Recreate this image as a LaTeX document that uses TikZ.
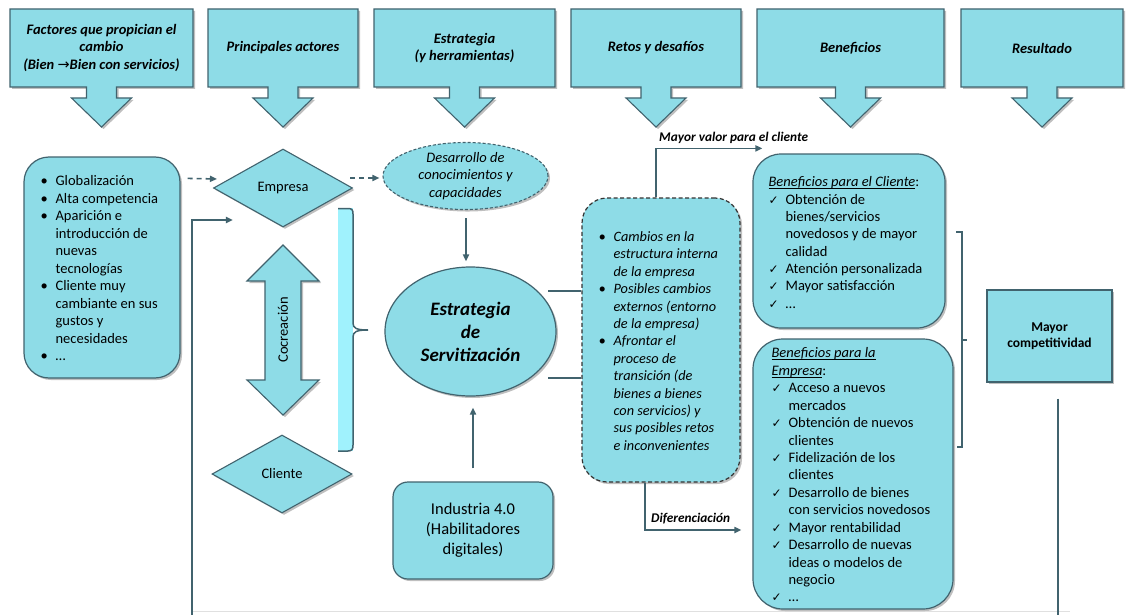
\documentclass[tikz,border=0pt]{standalone}
\usepackage{fontspec}
\setmainfont{Carlito}
\newfontfamily\symfont{DejaVu Sans}
\usetikzlibrary{shapes.geometric,arrows.meta,calc,shadows}

\definecolor{boxfill}{HTML}{8EDCE7}
\definecolor{boxline}{HTML}{41636E}
\definecolor{bracefill}{HTML}{A0F2FD}

% underline that sits just under the baseline
\newcommand\undl[1]{{\setbox0=\hbox{#1}\rlap{\rule[-2pt]{\wd0}{0.6pt}}\box0}}
% list markers
\newcommand\bul{\makebox[15pt][l]{•}}
\newcommand\ind{\hspace*{15pt}}
\newcommand\chk{\makebox[17pt][l]{\symfont\fontsize{12}{12}\selectfont ✓}}
\newcommand\cind{\hspace*{17pt}}

% heading box with its down-pointing arrow
\newcommand\hdrbox[4]{%
  \pgfmathsetmacro\hcx{(#2+#3)/2}%
  \draw[hdr] (#2,9) -- (#3,9) -- (#3,87) -- (\hcx+15,87) -- (\hcx+15,98)
    -- (\hcx+30,98) -- (\hcx,127) -- (\hcx-30,98) -- (\hcx-15,98)
    -- (\hcx-15,87) -- (#2,87) -- cycle;
  \node[hdrtext] (#1) at (\hcx,48) {#4};}

\tikzset{
  shad/.style={drop shadow={shadow xshift=2pt, shadow yshift=-2pt, opacity=0.25, fill=black}},
  hdr/.style={fill=boxfill, draw=boxline, line width=1.1pt, shad},
  hdrtext/.style={font=\fontsize{14.5}{17.5}\selectfont\bfseries\itshape, align=center, inner sep=0pt},
  rbox/.style={fill=boxfill, draw=boxline, line width=1.2pt, rounded corners=#1, shad, inner sep=0pt},
  listtext/.style={font=\fontsize{14.5}{17.5}\selectfont, align=left, inner sep=0pt, anchor=west},
  dia/.style={diamond, aspect=1.8, fill=boxfill, draw=boxline, line width=1.1pt, inner sep=0pt,
    minimum width=139pt, minimum height=78pt, font=\fontsize{14.5}{17}\selectfont, shad},
  conn/.style={draw=boxline, line width=1.8pt, -{Triangle[length=7pt,width=6pt]}},
  plainln/.style={draw=boxline, line width=1.8pt},
  dasharr/.style={draw=boxline, line width=1.6pt, dash pattern=on 5pt off 4pt,
    -{Triangle[length=7pt,width=6pt]}},
  lbl/.style={font=\fontsize{13.3}{15}\selectfont\bfseries\itshape, inner sep=0pt, anchor=west},
}

\begin{document}
\begin{tikzpicture}[x=1pt,y=-1pt]
\fill[white] (0,0) rectangle (1129,615);
\useasboundingbox (0,0) rectangle (1129,615);

% faint base line
\draw[black!12, line width=1pt] (191,611) -- (1070,611);

% column headings
\hdrbox{h1}{10}{193}{Factores que propician el\\cambio\\(Bien {\symfont\mdseries\upshape →}Bien con servicios)}
\hdrbox{h2}{208}{358}{Principales actores}
\hdrbox{h3}{374}{555}{Estrategia\\(y herramientas)}
\hdrbox{h4}{571}{741}{Retos y desafíos}
\hdrbox{h5}{757}{944}{Beneficios}
\hdrbox{h6}{961}{1123}{Resultado}

% factors of change
\node[rbox=25pt, minimum width=156pt, minimum height=221pt] (fact) at (102,267.5) {};
\node[listtext] (facttxt) at ($(fact.west)+(17,1)$) {%
\bul Globalización\\
\bul Alta competencia\\
\bul Aparición e\\
\ind introducción de\\
\ind nuevas\\
\ind tecnologías\\
\bul Cliente muy\\
\ind cambiante en sus\\
\ind gustos y\\
\ind necesidades\\
\bul …};

% actors
\node[dia] (emp) at (283,188) {Empresa};
\node[dia, minimum width=140pt] (cli) at (282,474) {Cliente};

% co-creation double arrow
\draw[fill=boxfill, draw=boxline, line width=1.1pt, shad]
  (283,245) -- (319,281) -- (301,281) -- (301,380) -- (319,380) -- (283,415)
  -- (247,380) -- (265,380) -- (265,281) -- (247,281) -- cycle;
\node[rotate=90, font=\fontsize{14.5}{17}\selectfont, inner sep=0pt] (cocre) at (283,330) {Cocreación};

% brace grouping the actors
\fill[bracefill] (338,208) rectangle (353,451);
\draw[boxline, line width=1.5pt] (338,208.5) -- (348,208.5)
  .. controls (352,208.5) and (353,210) .. (353,214) -- (353,323)
  .. controls (353,328) and (356,330) .. (368,330)
  .. controls (356,330) and (353,332) .. (353,337) -- (353,445)
  .. controls (353,449) and (352,451) .. (348,451) -- (338,451);

% strategy
\node[ellipse, fill=boxfill, draw=boxline, line width=1.1pt, dash pattern=on 3pt off 2pt,
  minimum width=165pt, minimum height=58pt, inner sep=0pt, shad,
  font=\fontsize{14.5}{17.5}\selectfont\itshape, align=center] (desa) at (465.5,176)
  {Desarrollo de\\conocimientos y\\capacidades};
\node[ellipse, fill=boxfill, draw=boxline, line width=1.2pt, minimum width=171pt,
  minimum height=129pt, inner sep=0pt, shad,
  font=\fontsize{19}{23}\selectfont\bfseries\itshape, align=center] (estr) at (470.5,331.5)
  {Estrategia\\de\\Servitización};
\node[rbox=15pt, minimum width=160pt, minimum height=97pt,
  font=\fontsize{16.5}{20}\selectfont, align=center] (ind) at (473,530.5)
  {Industria 4.0\\(Habilitadores\\digitales)};

% challenges
\node[rbox=25pt, minimum width=158pt, minimum height=284pt, draw=black!80,
  dash pattern=on 4pt off 2.5pt] (retos) at (661,340) {};
\node[listtext, font=\fontsize{14.3}{17.4}\selectfont\itshape] (retostxt) at ($(retos.west)+(17,1)$) {%
\bul Cambios en la\\
\ind estructura interna\\
\ind de la empresa\\
\bul Posibles cambios\\
\ind externos (entorno\\
\ind de la empresa)\\
\bul Afrontar el\\
\ind proceso de\\
\ind transición (de\\
\ind bienes a bienes\\
\ind con servicios) y\\
\ind sus posibles retos\\
\ind e inconvenientes};

% benefits
\node[rbox=28pt, minimum width=192pt, minimum height=174pt] (bcli) at (849,241) {};
\node[listtext, font=\fontsize{14.5}{17.3}\selectfont] (bclitxt) at ($(bcli.west)+(16,1.5)$) {%
\undl{\itshape Beneficios para el Cliente}:\\
\chk Obtención de\\
\cind bienes/servicios\\
\cind novedosos y de mayor\\
\cind calidad\\
\chk Atención personalizada\\
\chk Mayor satisfacción\\
\chk …};

\node[rbox=30pt, minimum width=200pt, minimum height=270pt] (bemp) at (853,474) {};
\node[listtext, font=\fontsize{14.5}{17.43}\selectfont] (bemptxt) at ($(bemp.west)+(19,1)$) {%
\undl{\itshape Beneficios para la}\\
\undl{\itshape Empresa}:\\
\chk Acceso a nuevos\\
\cind mercados\\
\chk Obtención de nuevos\\
\cind clientes\\
\chk Fidelización de los\\
\cind clientes\\
\chk Desarrollo de bienes\\
\cind con servicios novedosos\\
\chk Mayor rentabilidad\\
\chk Desarrollo de nuevas\\
\cind ideas o modelos de\\
\cind negocio\\
\chk …};

% bracket gathering the benefits
\draw[boxline, line width=1.5pt] (956,232) -- (962,232) -- (962,447) -- (957,447);
\draw[boxline, line width=1.5pt] (962,340) -- (967,340);

% result
\node[rectangle, fill=boxfill, draw=boxline, line width=1.1pt, shad, minimum width=125pt,
  minimum height=92pt, inner sep=0pt, font=\fontsize{13.5}{16}\selectfont\bfseries,
  align=center] (comp) at (1049.5,336) {Mayor\\competitividad};

% connectors
\draw[dasharr] ($(fact.north east)+(7,22)$) -- ($(emp.west)+(4,-9)$);
\draw[dasharr] ($(emp.east)+(-3,-10)$) -- ($(desa.west)+(-3,2)$);
\draw[conn] ($(desa.south)+(0.5,8)$) -- ($(desa.south |- estr.north)+(0.5,-5)$);
\draw[conn] ($(ind.north)+(0,-13)$) -- ($(estr.south)+(2.5,11)$);

\coordinate (l1) at (548,291);
\coordinate (l2) at (548,378);
\draw[plainln] (l1) -- (l1 -| retos.west);
\draw[plainln] (l2) -- (l2 -| retos.west);

\draw[conn] ($(retos.north)+(-5,0)$) |- ($(bcli.north west)+(10,-5)$);
\node[lbl] (mv) at (659,138) {Mayor valor para el cliente};
\draw[conn] ($(retos.south)+(-16,0)$) |- ($(bemp.west)+(-11,56)$);
\node[lbl] (dif) at (651,519) {Diferenciación};

\coordinate (fbs) at (192,615);
\draw[conn] (fbs) |- ($(emp.west)+(20,32)$);
\coordinate (rvb) at (1058,615);
\draw[plainln] ($(comp.south)+(8.5,16)$) -- (rvb);
\end{tikzpicture}
\end{document}
